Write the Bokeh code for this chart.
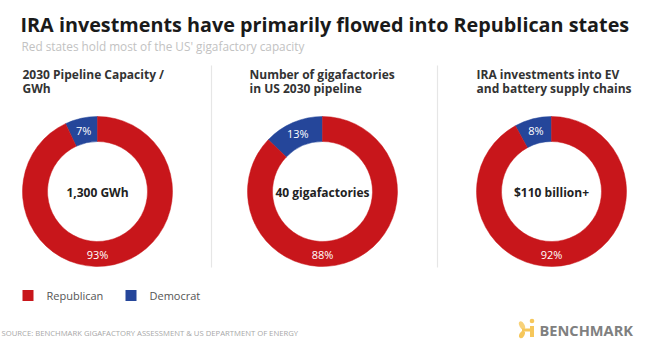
import numpy as np
from bokeh.plotting import figure
from bokeh.models import Range1d, ColumnDataSource
from bokeh.core.properties import value
from bokeh.embed import file_html
from bokeh.resources import INLINE

# ---------------- data ----------------
panel_titles = ["2030 Pipeline Capacity /\nGWh",
                "Number of gigafactories\nin US 2030 pipeline",
                "IRA investments into EV\nand battery supply chains"]
center_labels = ["1,300 GWh", "40 gigafactories", "$110 billion+"]
republican = [93, 88, 92]
democrat = [7, 13, 8]
series = ["Republican", "Democrat"]
title = "IRA investments have primarily flowed into Republican states"
subtitle = "Red states hold most of the US' gigafactory capacity"
source = "SOURCE: BENCHMARK GIGAFACTORY ASSESSMENT & US DEPARTMENT OF ENERGY"
brand = "BENCHMARK"

# ---------------- style / layout ----------------
W, H = 652, 354
RED = "#C8161B"
BLUE = "#25469A"
FONT = "Open Sans"
cx = [97, 322, 551]
cy_px = 191
R_OUT, R_IN = 75, 50
R_LBL = 63
title_x = [22, 249, 476]

def Y(py):
    return H - py

p = figure(width=W, height=H, x_range=Range1d(0, W), y_range=Range1d(0, H),
           output_backend="svg", toolbar_location=None, min_border=0)
p.axis.visible = False
p.grid.visible = False
p.outline_line_color = None
p.background_fill_color = "white"
p.border_fill_color = "white"

# title & subtitle
p.text(x=[20], y=[Y(24)], text=[title], text_font=value(FONT), text_font_size="19.8px",
       text_font_style="bold", text_color="#1a1a1a", text_baseline="alphabetic")
p.text(x=[21], y=[Y(45)], text=[subtitle], text_font=value(FONT), text_font_size="11.8px",
       text_color="#c2c2c2", text_baseline="alphabetic")

# separators
for sx in [211, 437]:
    p.segment(x0=[sx], y0=[Y(65)], x1=[sx], y1=[Y(267)], line_color="#e6e6e6", line_width=1.2)

# donuts
for i in range(3):
    tot = republican[i] + democrat[i]
    a0 = np.pi / 2
    a1 = a0 + 2 * np.pi * democrat[i] / tot
    a2 = a0 + 2 * np.pi
    src = ColumnDataSource(dict(x=[cx[i], cx[i]], y=[Y(cy_px)] * 2,
                                start=[a0, a1], end=[a1, a2], color=[BLUE, RED]))
    p.annular_wedge(x="x", y="y", inner_radius=R_IN, outer_radius=R_OUT,
                    start_angle="start", end_angle="end", fill_color="color",
                    line_color="color", line_width=0.5, direction="anticlock", source=src)
    mid = (a0 + a1) / 2
    lx = [cx[i] + R_LBL * np.cos(mid), cx[i]]
    ly = [Y(cy_px) + R_LBL * np.sin(mid), Y(cy_px) - R_LBL]
    p.text(x=lx, y=ly, text=[f"{democrat[i]}%", f"{republican[i]}%"],
           text_font=value(FONT), text_font_size="11px", text_color="white",
           text_align="center", text_baseline="middle")
    p.text(x=[cx[i]], y=[Y(cy_px + 1)], text=[center_labels[i]], text_font=value(FONT),
           text_font_size="12px", text_font_style="bold", text_color="#222222",
           text_align="center", text_baseline="middle")
    lines = panel_titles[i].split("\n")
    p.text(x=[title_x[i]] * len(lines), y=[Y(74 + 14 * k) for k in range(len(lines))],
           text=lines, text_font=value(FONT), text_font_size="12px",
           text_font_style="bold", text_color="#333333", text_baseline="alphabetic")

# legend
leg_x = [22, 125]
leg_cols = [RED, BLUE]
p.rect(x=[lx_ + 5.5 for lx_ in leg_x], y=[Y(295)] * 2, width=11, height=11,
       fill_color=leg_cols, line_color=None)
p.text(x=[lx_ + 24 for lx_ in leg_x], y=[Y(295)] * 2, text=series, text_font=value(FONT),
       text_font_size="11px", text_color="#555555", text_baseline="middle")

# source
p.text(x=[1], y=[Y(332)], text=[source], text_font=value(FONT), text_font_size="7.7px",
       text_color="#a8a8a8", text_baseline="middle")

# logo
p.text(x=[539], y=[Y(329)], text=[brand], text_font=value(FONT), text_font_size="14.6px",
       text_font_style="bold", text_color="#808080", text_baseline="middle")
p.circle(x=[531.5], y=[Y(320.5)], radius=2.3, fill_color="#F6C75B", line_color=None)
p.rect(x=[531.5], y=[Y(331)], width=4, height=11, fill_color="#F6C75B", line_color=None)
p.ellipse(x=[521.5], y=[Y(325)], width=5, height=9, angle=0.5, fill_color="#F8D27A", line_color=None)
p.ellipse(x=[521.5], y=[Y(334)], width=5, height=8, angle=-0.5, fill_color="#F6C75B", line_color=None)
p.rect(x=[525.5], y=[Y(329.5)], width=8, height=3, fill_color="#F6C75B", line_color=None)

open("out.html", "w").write(file_html(p, INLINE))
